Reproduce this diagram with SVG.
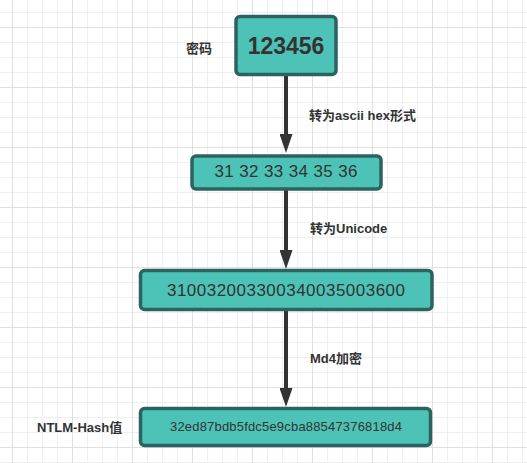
<svg xmlns="http://www.w3.org/2000/svg" width="527" height="463" viewBox="0 0 527 463">
<style>
.node rect{fill:#4dc3b7;stroke:#2b6360;stroke-width:3.5}
.nt{font-family:"Liberation Sans","Noto Sans CJK SC",sans-serif;fill:#333;text-anchor:middle}
.lbl{font-family:"Liberation Sans","Noto Sans CJK SC",sans-serif;fill:#333;font-size:13px;font-weight:bold}
.edge{stroke:#333;stroke-width:4;fill:none}
</style>
<defs>
<pattern id="minor" x="12" y="12" width="15" height="15" patternUnits="userSpaceOnUse">
<path d="M0.5 0V15M0 0.5H15" stroke="#efefef" stroke-width="1" fill="none"/>
</pattern>
<pattern id="major" x="12" y="27" width="60" height="60" patternUnits="userSpaceOnUse">
<path d="M0.5 0V60M0 0.5H60" stroke="#e0e0e0" stroke-width="1" fill="none"/>
</pattern>
<marker id="arr" viewBox="0 0 19 13" refX="0" refY="6.5" markerWidth="19" markerHeight="13" markerUnits="userSpaceOnUse" orient="auto">
<path d="M0 0L19 6.5L0 13Z" fill="#333"/>
</marker>
</defs>
<rect width="527" height="463" fill="#fff"/>
<rect width="527" height="463" fill="url(#minor)"/>
<rect width="527" height="463" fill="url(#major)"/>
<g id="connectors">
<path class="edge" d="M286 75V134" marker-end="url(#arr)"/>
<path class="edge" d="M286 190V250" marker-end="url(#arr)"/>
<path class="edge" d="M286 311V388" marker-end="url(#arr)"/>
</g>
<g id="n1" class="node">
<rect x="236" y="16.5" width="100" height="58" rx="4"/>
<text class="nt" x="286" y="54" font-size="23" font-weight="bold">123456</text>
</g>
<g id="n2" class="node">
<rect x="192" y="156" width="189" height="33" rx="4"/>
<text class="nt" x="286" y="177" font-size="17" textLength="143">31 32 33 34 35 36</text>
</g>
<g id="n3" class="node">
<rect x="140.5" y="270.5" width="291.5" height="39" rx="4"/>
<text class="nt" x="286" y="296" font-size="17" textLength="238">310032003300340035003600</text>
</g>
<g id="n4" class="node">
<rect x="140.5" y="408.5" width="290" height="37" rx="4"/>
<text class="nt" x="286" y="431" font-size="13" textLength="232">32ed87bdb5fdc5e9cba88547376818d4</text>
</g>
<g id="labels">
<text class="lbl" x="186" y="53">密码</text>
<text class="lbl" x="309" y="120">转为ascii hex形式</text>
<text class="lbl" x="310" y="233">转为Unicode</text>
<text class="lbl" x="310" y="363">Md4加密</text>
<text class="lbl" x="37" y="432">NTLM-Hash值</text>
</g>
</svg>
